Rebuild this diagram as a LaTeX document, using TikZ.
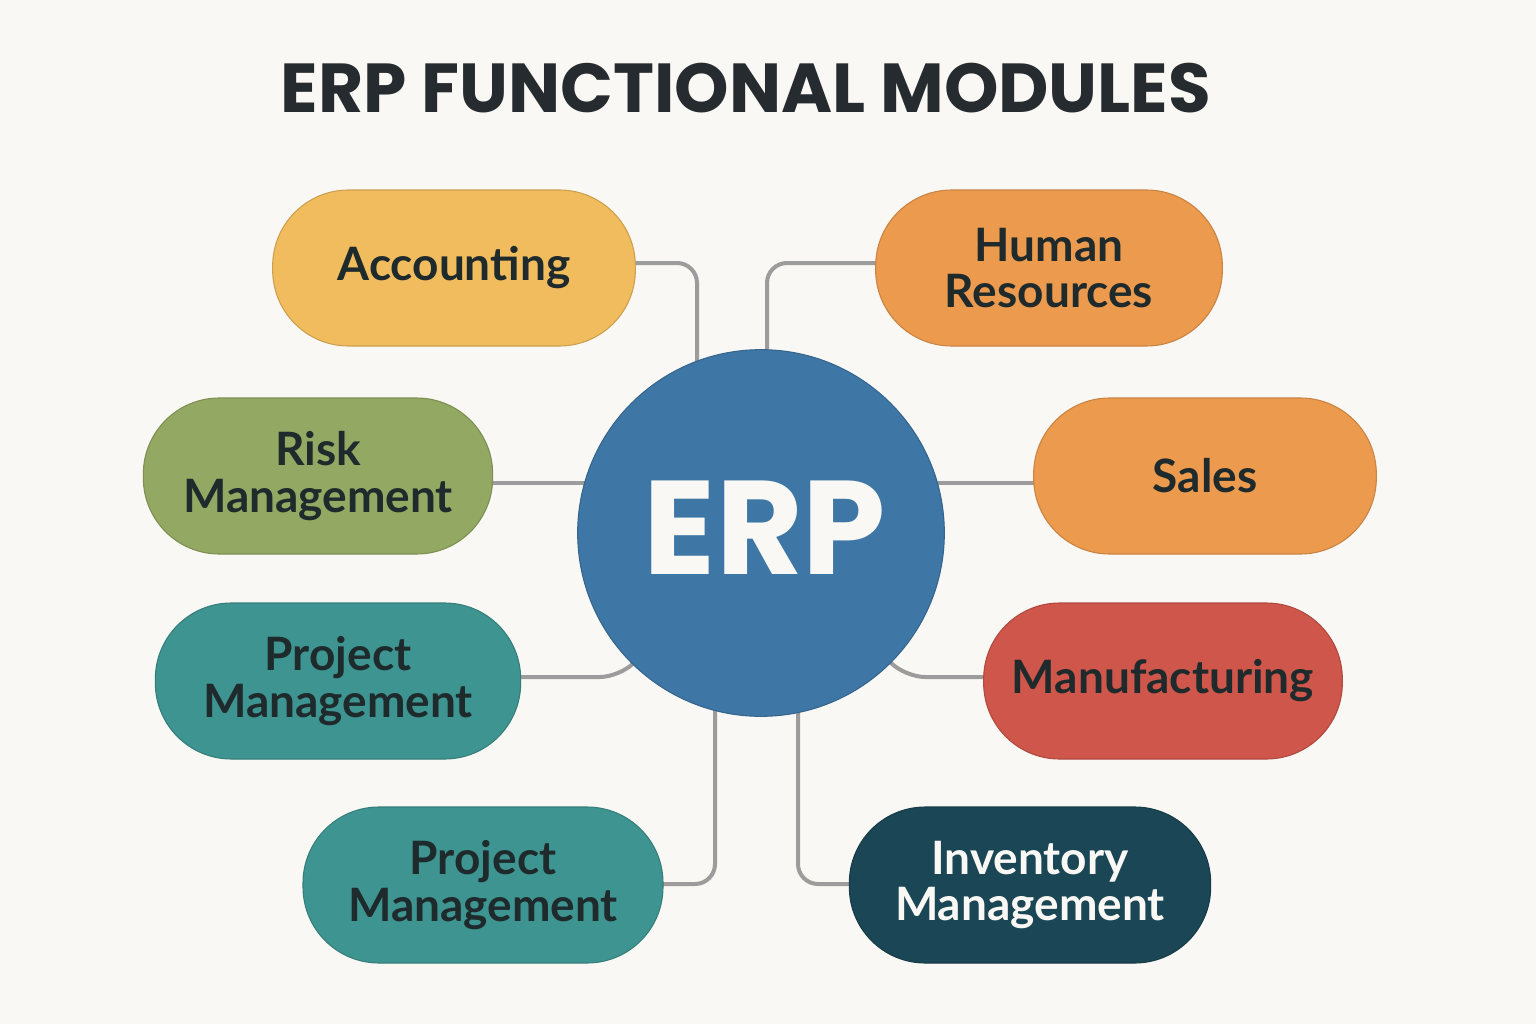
\documentclass[tikz,border=0pt]{standalone}
\usepackage{fontspec}
\newfontfamily\titlefont{Poppins}
\newfontfamily\nodefont{Lato}
\usetikzlibrary{calc}
\definecolor{bgc}{HTML}{FAF8F4}
\definecolor{txt}{HTML}{1E2A2C}
\definecolor{ttl}{HTML}{262B2F}
\definecolor{cacc}{HTML}{F0BC5E}
\definecolor{corange}{HTML}{EC9A4E}
\definecolor{crisk}{HTML}{93A862}
\definecolor{cteal}{HTML}{3E9490}
\definecolor{cmanu}{HTML}{CF564A}
\definecolor{cinv}{HTML}{1B4655}
\definecolor{cerp}{HTML}{3E77A6}
\definecolor{cline}{HTML}{9C9C9C}
\pgfdeclarelayer{bg}
\pgfdeclarelayer{edges}
\pgfsetlayers{bg,edges,main}
\tikzset{
  pill/.style={rectangle, rounded corners=57pt, minimum height=117pt, inner sep=0pt,
    draw=#1!85!black, line width=0.8pt, fill=#1, text=txt, align=center,
    font=\nodefont\bfseries\fontsize{34.5}{35}\selectfont},
  conn/.style={draw=cline, line width=3pt, rounded corners=15pt},
}
\begin{document}
\begin{tikzpicture}[x=0.75pt,y=-0.75pt]
\begin{pgfonlayer}{bg}
\fill[bgc] (0,0) rectangle (1536,1024);
\end{pgfonlayer}
\useasboundingbox (0,0) rectangle (1536,1024);
\node[font=\titlefont\bfseries\fontsize{52}{56}\selectfont, text=ttl] (title) at (746,88) {ERP FUNCTIONAL MODULES};

\node[circle, fill=cerp, draw=cerp!85!black, line width=0.8pt, minimum size=275pt, inner sep=0pt] (erp) at (761,533) {};
\node[font=\titlefont\bfseries\fontsize{100}{106}\selectfont, text=bgc] (erptxt) at (765,528) {ERP};

\node[pill=cacc, minimum width=272pt] (acc) at (454,268) {Accounting};
\node[pill=corange, minimum width=260pt] (hr) at (1049,268) {Human\\Resources};
\node[pill=crisk, minimum width=262pt] (risk) at (318,476) {Risk\\Management};
\node[pill=corange, minimum width=257pt] (sales) at (1205,476) {Sales};
\node[pill=cteal, minimum width=274pt] (projL) at (338,681) {Project\\Management};
\node[pill=cmanu, minimum width=269pt] (manu) at (1163,681) {Manufacturing};
\node[pill=cteal, minimum width=270pt] (projB) at (483,885) {Project\\Management};
\node[pill=cinv, minimum width=271pt, text=bgc] (inv) at (1030,885) {Inventory\\Management};

\begin{pgfonlayer}{edges}
\draw[conn] ($(acc.east)+(-10,-5)$) -| ($(erp.north)+(-64,60)$);
\draw[conn] ($(hr.west)+(10,-5)$) -| ($(erp.north)+(6,60)$);
\draw[conn] ($(risk.east)+(-10,7)$) -- ($(risk.east -| erp.center)+(0,7)$);
\draw[conn] ($(sales.west)+(10,7)$) -- ($(sales.west -| erp.center)+(0,7)$);
\draw[conn] ($(projL.east)+(-10,-4)$) -- ($(erp.center)+(-141,144)$) -- (erp.center);
\draw[conn] ($(manu.west)+(10,-4)$) -- ($(erp.center)+(144,144)$) -- (erp.center);
\draw[conn] ($(erp.center)+(-46,0)$) |- ($(projB.east)+(-10,-1)$);
\draw[conn] ($(erp.center)+(37,0)$) |- ($(inv.west)+(10,-1)$);
\end{pgfonlayer}
\end{tikzpicture}
\end{document}
